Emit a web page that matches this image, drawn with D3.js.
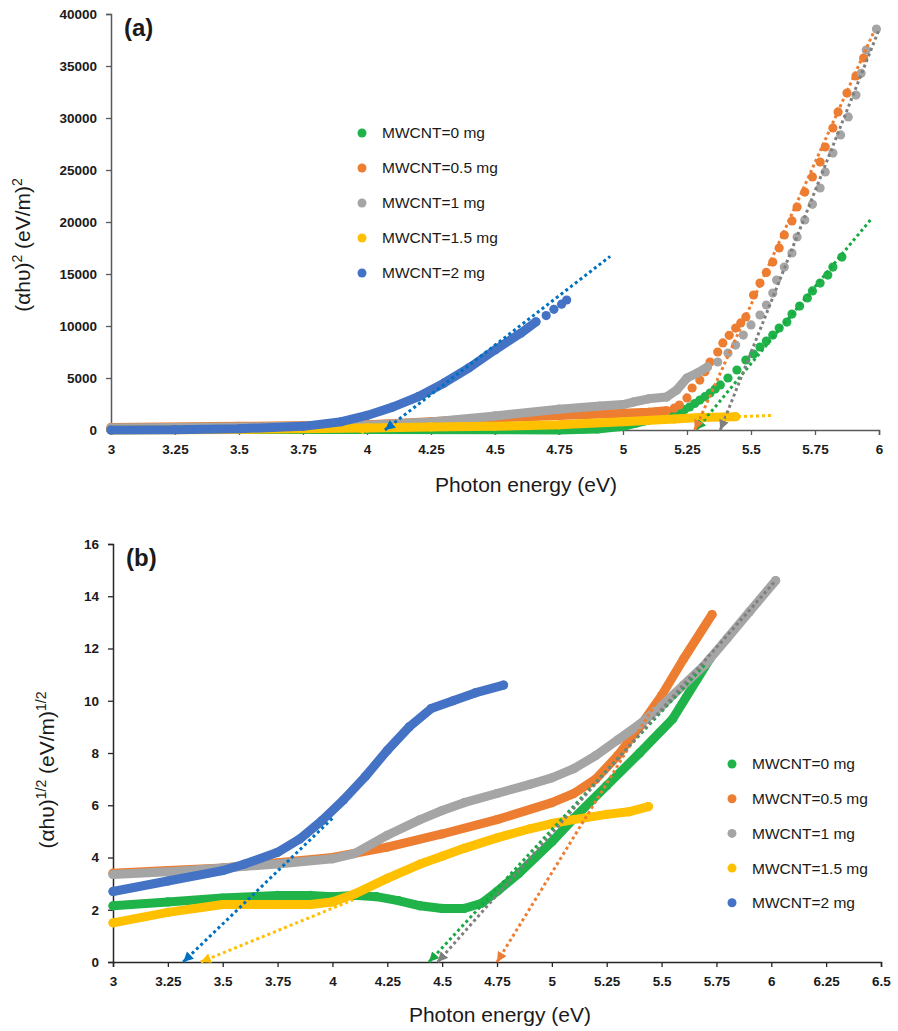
<!DOCTYPE html>
<html lang="en">
<head>
<meta charset="utf-8" />
<title>Tauc plots MWCNT</title>
<script src="https://d3js.org/d3.v7.min.js"></script>
<style>
  body { margin: 0; background: #fff; }
  svg text { font-family: "Liberation Sans", Arial, sans-serif; fill: #1a1a1a; }
  .tick text { font-weight: bold; font-size: 13.5px; }
</style>
</head>
<body>
<svg id="chart" width="898" height="1031"></svg>
<script>
// ---- shared labels ----
const legendLabels = ["MWCNT=0 mg", "MWCNT=0.5 mg", "MWCNT=1 mg", "MWCNT=1.5 mg", "MWCNT=2 mg"];
const xTicksA = [3, 3.25, 3.5, 3.75, 4, 4.25, 4.5, 4.75, 5, 5.25, 5.5, 5.75, 6];
const yTicksA = [0, 5000, 10000, 15000, 20000, 25000, 30000, 35000, 40000];
const xTicksB = [3, 3.25, 3.5, 3.75, 4, 4.25, 4.5, 4.75, 5, 5.25, 5.5, 5.75, 6, 6.25, 6.5];
const yTicksB = [0, 2, 4, 6, 8, 10, 12, 14, 16];

// ---- panel (a): (ahv)^2 vs energy ----
// dense part of each series (drawn as a thick band) and separate markers
const a0Band = [[3,60],[3.5,60],[4,50],[4.5,20],[4.75,10],[4.9,100],[5.0,350],[5.05,650],[5.1,960]];
const a0Dots = [[5.13,1100],[5.17,1250],[5.2,1500],[5.22,1730],[5.24,1950],[5.26,2210],[5.28,2550],[5.3,2880],[5.32,3200],[5.34,3560],[5.36,3950],[5.38,4330],[5.41,5000],[5.445,5770],[5.48,6730],[5.51,7310],[5.535,7980],[5.56,8560],[5.585,9130],[5.61,9810],[5.64,10380],[5.66,11150],[5.69,11920],[5.72,12690],[5.74,13370],[5.77,14130],[5.8,14900],[5.82,15670],[5.855,16630]];
const a05Band = [[3,250],[3.5,350],[4,500],[4.25,800],[4.5,1150],[4.75,1400],[5.0,1600],[5.1,1700],[5.17,1850]];
const a05Dots = [[5.2,2100],[5.22,2400],[5.25,3080],[5.27,4040],[5.3,4800],[5.32,5600],[5.34,6540],[5.37,7500],[5.39,8370],[5.415,9100],[5.44,9800],[5.46,10300],[5.48,10870],[5.51,12980],[5.535,14130],[5.56,15150],[5.585,16150],[5.61,17500],[5.63,18750],[5.66,20100],[5.68,21440],[5.71,22880],[5.74,24330],[5.77,25770],[5.79,27210],[5.82,29040],[5.84,30580],[5.875,32400],[5.91,34040],[5.94,35770]];
const a1Band = [[3,200],[3.5,280],[3.75,350],[4,450],[4.25,770],[4.5,1350],[4.75,2000],[4.91,2300],[5.0,2450],[5.04,2690],[5.1,3000],[5.17,3170],[5.21,3850],[5.25,5000],[5.29,5480],[5.33,6060]];
const a1Dots = [[5.37,6540],[5.41,7400],[5.44,8170],[5.47,9130],[5.5,10100],[5.535,11060],[5.56,12020],[5.585,13170],[5.6,14420],[5.63,15670],[5.66,17020],[5.68,18560],[5.71,20190],[5.74,21700],[5.77,23270],[5.79,24810],[5.82,26630],[5.85,28370],[5.88,30100],[5.91,32200],[5.93,34300],[5.95,36540],[5.99,38560]];
const a15Band = [[3,0],[3.5,50],[4,200],[4.25,300],[4.5,350],[4.75,500],[5.0,800],[5.2,1050],[5.3,1200],[5.44,1280]];
const a15Dots = [];
const a2Band = [[3,0],[3.25,30],[3.5,120],[3.75,350],[3.9,800],[4.0,1400],[4.1,2200],[4.2,3200],[4.3,4500],[4.4,6000],[4.5,7700],[4.6,9300],[4.66,10400]];
const a2Dots = [[4.7,11000],[4.73,11600],[4.76,12100],[4.78,12500]];
// linear fits, first point is the intercept (arrow end)
const a0Fit = [[5.285,0],[5.97,20300]];
const a05Fit = [[5.28,0],[5.98,38300]];
const a1Fit = [[5.38,0],[6.0,38500]];
const a15Fit = [[3.95,0],[5.58,1400]];
const a2Fit = [[4.07,0],[4.95,16700]];

// ---- panel (b): (ahv)^1/2 vs energy ----
const b0Band = [[3,2.15],[3.25,2.3],[3.5,2.45],[3.75,2.55],[3.9,2.55],[4.0,2.5],[4.1,2.55],[4.2,2.5],[4.3,2.35],[4.4,2.15],[4.5,2.05],[4.6,2.05],[4.68,2.25],[4.75,2.7],[4.85,3.4],[5.0,4.6],[5.1,5.5],[5.25,6.75],[5.4,8.0],[5.55,9.3],[5.72,11.6]];
const b05Band = [[3,3.4],[3.25,3.5],[3.5,3.6],[3.75,3.8],[4,4.0],[4.25,4.4],[4.5,4.9],[4.75,5.45],[5.0,6.1],[5.1,6.45],[5.2,7.0],[5.3,7.9],[5.4,9.0],[5.5,10.2],[5.6,11.6],[5.73,13.3]];
const b1Band = [[3,3.35],[3.25,3.45],[3.5,3.6],[3.75,3.75],[4,3.95],[4.1,4.15],[4.25,4.85],[4.4,5.45],[4.5,5.8],[4.6,6.1],[4.75,6.45],[4.9,6.8],[5.0,7.05],[5.1,7.4],[5.2,7.9],[5.3,8.5],[5.4,9.1],[5.5,9.8],[5.6,10.6],[5.7,11.4],[5.8,12.4],[5.9,13.4],[6.02,14.6]];
const b15Band = [[3,1.5],[3.25,1.9],[3.5,2.2],[3.75,2.2],[3.9,2.2],[4.0,2.3],[4.1,2.6],[4.25,3.2],[4.4,3.75],[4.5,4.05],[4.6,4.35],[4.75,4.75],[4.9,5.1],[5.0,5.3],[5.1,5.45],[5.25,5.65],[5.35,5.75],[5.44,5.95]];
const b2Band = [[3,2.7],[3.25,3.1],[3.5,3.5],[3.6,3.75],[3.75,4.2],[3.85,4.7],[3.95,5.4],[4.05,6.2],[4.15,7.1],[4.25,8.1],[4.35,9.0],[4.45,9.7],[4.55,10.0],[4.65,10.3],[4.78,10.6]];
const b0Fit = [[4.44,0],[5.7,11.4]];
const b05Fit = [[4.75,0],[5.73,13.4]];
const b1Fit = [[4.48,0],[6.02,14.6]];
const b15Fit = [[3.4,0],[4.1,2.4]];
const b2Fit = [[3.32,0],[4.0,5.5]];

const seriesColors = ["#1fb34a", "#ed7d31", "#a5a5a5", "#ffc000", "#4472c4"];
const fitColors = ["#1aa843", "#ed7d31", "#7f7f7f", "#ffc000", "#0070c0"];

const svg = d3.select("#chart");

// arrow heads for the fit lines
const defs = svg.append("defs");
fitColors.forEach((c, i) => {
  defs.append("marker")
    .attr("id", "arrow" + i)
    .attr("markerUnits", "userSpaceOnUse")
    .attr("markerWidth", 11).attr("markerHeight", 11)
    .attr("refX", 10).attr("refY", 5)
    .attr("orient", "auto-start-reverse")
    .append("path")
    .attr("d", "M0,0 L10,5 L0,10 Z")
    .attr("fill", c);
});

function drawPanel(p) {
  const x = d3.scaleLinear().domain(p.xDomain).range(p.xRange);
  const y = d3.scaleLinear().domain(p.yDomain).range(p.yRange);
  const g = svg.append("g");

  // axes
  const ax = g.append("g")
    .attr("transform", "translate(0," + p.yRange[0] + ")")
    .call(d3.axisBottom(x).tickValues(p.xTicks).tickSize(5).tickPadding(9).tickFormat(d => String(d)));
  const ay = g.append("g")
    .attr("transform", "translate(" + p.xRange[0] + ",0)")
    .call(d3.axisLeft(y).tickValues(p.yTicks).tickSize(5).tickPadding(9).tickFormat(d => String(d)));
  [ax, ay].forEach(a => {
    a.select(".domain").attr("stroke", p.axisColor).attr("stroke-width", 1.5);
    a.selectAll(".tick line").attr("stroke", p.axisColor).attr("stroke-width", 1.3);
  });

  // series: thick band for the dense part, circles for every read point
  const line = d3.line().x(d => x(d[0])).y(d => y(d[1]));
  p.series.forEach((s, i) => {
    if (s.band.length > 1) {
      g.append("path")
        .attr("d", line(s.band))
        .attr("fill", "none")
        .attr("stroke", seriesColors[i])
        .attr("stroke-width", p.bandWidth)
        .attr("stroke-linecap", "round")
        .attr("stroke-linejoin", "round");
    }
    g.selectAll(null)
      .data(s.band.concat(s.dots))
      .enter()
      .append("circle")
      .attr("cx", d => x(d[0]))
      .attr("cy", d => y(d[1]))
      .attr("r", p.dotR)
      .attr("fill", seriesColors[i]);
  });

  // dotted linear fits with arrow at the intercept
  p.fits.forEach((f, i) => {
    g.append("path")
      .attr("d", line(f))
      .attr("fill", "none")
      .attr("stroke", fitColors[i])
      .attr("stroke-width", 3)
      .attr("stroke-dasharray", "3 3")
      .attr("marker-start", "url(#arrow" + i + ")");
  });

  // panel letter
  g.append("text")
    .attr("x", p.xRange[0] + 13)
    .attr("y", p.yRange[1] + 22)
    .attr("font-size", 24)
    .attr("font-weight", "bold")
    .text(p.letter);

  // x title
  g.append("text")
    .attr("x", p.xTitlePos[0])
    .attr("y", p.xTitlePos[1])
    .attr("text-anchor", "middle")
    .attr("font-size", 21)
    .text("Photon energy (eV)");

  // y title with superscripts
  const yt = g.append("text")
    .attr("transform", "translate(" + p.yTitlePos[0] + "," + p.yTitlePos[1] + ") rotate(-90)")
    .attr("text-anchor", "middle")
    .attr("font-size", 21);
  yt.append("tspan").text("(\u03b1h\u03c5)");
  yt.append("tspan").attr("dy", -8).attr("font-size", 14).text(p.power);
  yt.append("tspan").attr("dy", 8).text(" (eV/m)");
  yt.append("tspan").attr("dy", -8).attr("font-size", 14).text(p.power);

  // legend
  const lg = g.append("g").attr("transform", "translate(" + p.legendPos[0] + "," + p.legendPos[1] + ")");
  legendLabels.forEach((lab, i) => {
    lg.append("circle")
      .attr("cx", 0).attr("cy", i * p.legendStep)
      .attr("r", 4.5)
      .attr("fill", seriesColors[i]);
    lg.append("text")
      .attr("x", 20).attr("y", i * p.legendStep)
      .attr("dy", "0.35em")
      .attr("font-size", 15.5)
      .text(lab);
  });
}

drawPanel({
  xDomain: [3, 6], xRange: [111, 879],
  yDomain: [0, 40000], yRange: [430, 14],
  xTicks: xTicksA, yTicks: yTicksA,
  axisColor: "#595959",
  bandWidth: 9, dotR: 4.6,
  series: [
    { band: a0Band, dots: a0Dots },
    { band: a05Band, dots: a05Dots },
    { band: a1Band, dots: a1Dots },
    { band: a15Band, dots: a15Dots },
    { band: a2Band, dots: a2Dots }
  ],
  fits: [a0Fit, a05Fit, a1Fit, a15Fit, a2Fit],
  letter: "(a)", power: "2",
  xTitlePos: [526, 492], yTitlePos: [30, 245],
  legendPos: [362, 133], legendStep: 35
});

drawPanel({
  xDomain: [3, 6.5], xRange: [113, 881],
  yDomain: [0, 16], yRange: [962, 544],
  xTicks: xTicksB, yTicks: yTicksB,
  axisColor: "#262626",
  bandWidth: 9, dotR: 4.6,
  series: [
    { band: b0Band, dots: [] },
    { band: b05Band, dots: [] },
    { band: b1Band, dots: [] },
    { band: b15Band, dots: [] },
    { band: b2Band, dots: [] }
  ],
  fits: [b0Fit, b05Fit, b1Fit, b15Fit, b2Fit],
  letter: "(b)", power: "1/2",
  xTitlePos: [500, 1022], yTitlePos: [54, 770],
  legendPos: [732, 764], legendStep: 34.7
});
</script>
</body>
</html>
